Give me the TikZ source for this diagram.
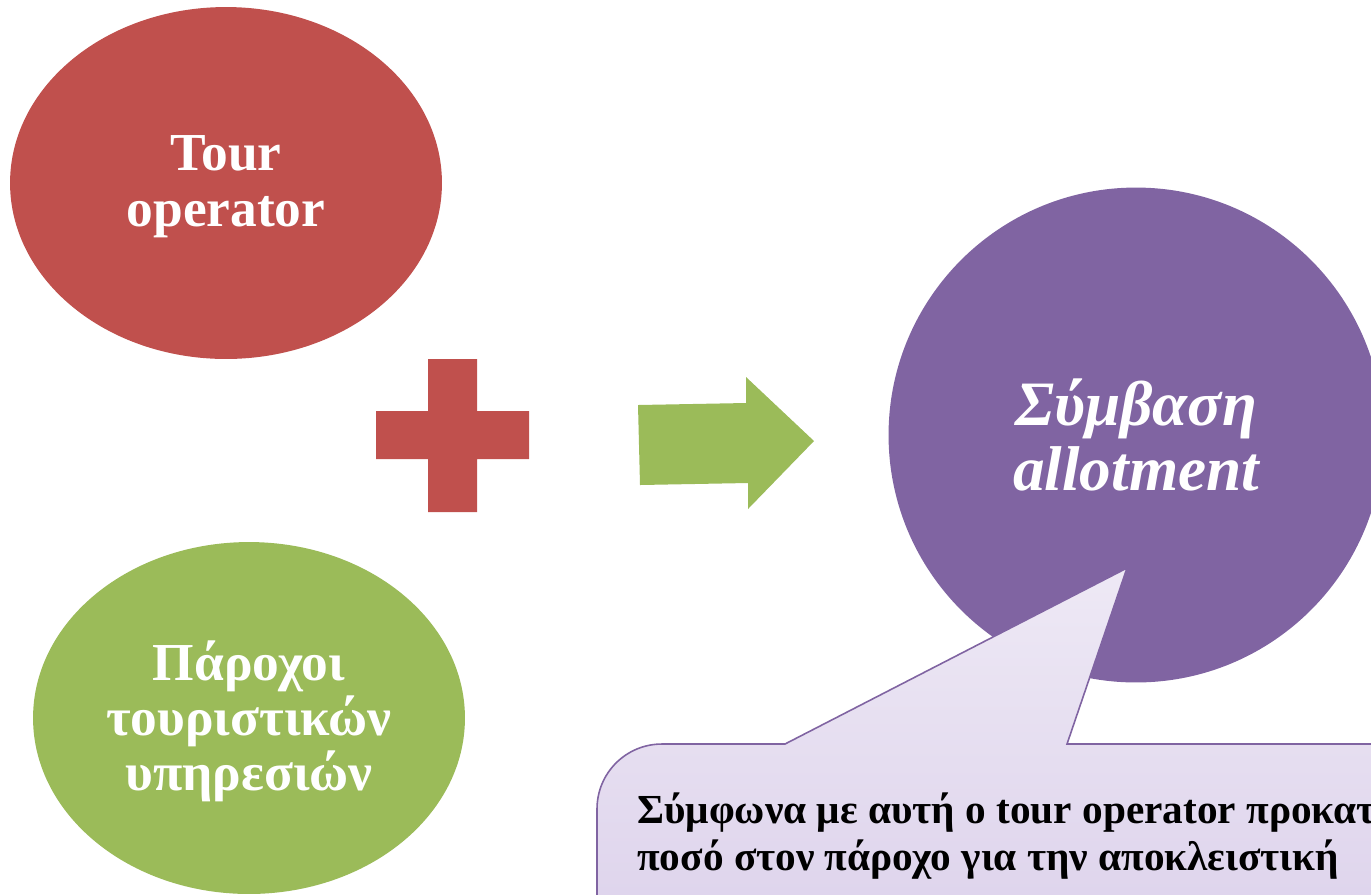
\documentclass[tikz,border=0pt]{standalone}
\usepackage{fontspec}
\setmainfont{Liberation Serif}
\usetikzlibrary{shapes.geometric}

\definecolor{tourred}{HTML}{C0504D}
\definecolor{provgreen}{HTML}{9BBB59}
\definecolor{dealpurple}{HTML}{8064A2}
\definecolor{notetop}{HTML}{EEE9F5}
\definecolor{notebot}{HTML}{DCD1EB}

\begin{document}
\begin{tikzpicture}[x=0.02cm,y=-0.02cm,
    blob/.style={ellipse,fill=#1,inner sep=0pt,minimum width=8.64cm,minimum height=7.04cm},
    blob text/.style={text=white,align=center,font=\bfseries\fontsize{30.4}{#1}\selectfont},
    deal node/.style={circle,fill=dealpurple,text=white,inner sep=0pt,align=center,minimum size=9.9cm,font=\bfseries\itshape\fontsize{36}{36.5}\selectfont}]
            \clip (0,0) rectangle (1371,894);

            \node[blob=tourred] (tour) at (226,183) {};
            \node[blob=provgreen] (prov) at (249,718) {};
            \node[blob text=31.9] (tourtxt) at ([yshift=-0.08cm]tour.center) {Tour\\operator};
            \node[blob text=31.3] (provtxt) at ([yshift=-0.06cm]prov.center) {Πάροχοι\\τουριστικών\\υπηρεσιών};
            \node[deal node] (deal) at (1136,435) {Σύμβαση\\allotment};

            % plus and arrow
            \fill[tourred] (428,359) -- (477,359) -- (477,411) -- (529,411) -- (529,459) -- (477,459)
                -- (477,512) -- (428,512) -- (428,459) -- (376,459) -- (376,411) -- (428,411) -- cycle;
            \fill[provgreen] (638,405) -- (746,403) -- (746,377) -- (814,441) -- (748,509) -- (748,483)
                -- (640,485) -- cycle;

            % callout
            \path[draw=dealpurple,line width=0.9pt,top color=notetop,bottom color=notebot]
                (597,960) -- (597,809) .. controls (597,773) and (626,744) .. (662,744)
                -- (785,744) -- (1127,568) -- (1067,744) -- (1430,744) -- (1430,960) -- cycle;
            \node[anchor=north west,inner sep=0pt,align=left,font=\bfseries\fontsize{23.5}{26.9}\selectfont] (note) at (637,792)
                {Σύμφωνα με αυτή ο tour operator προκαταβάλλει\\ποσό στον πάροχο για την αποκλειστική};
        \end{tikzpicture}
\end{document}
